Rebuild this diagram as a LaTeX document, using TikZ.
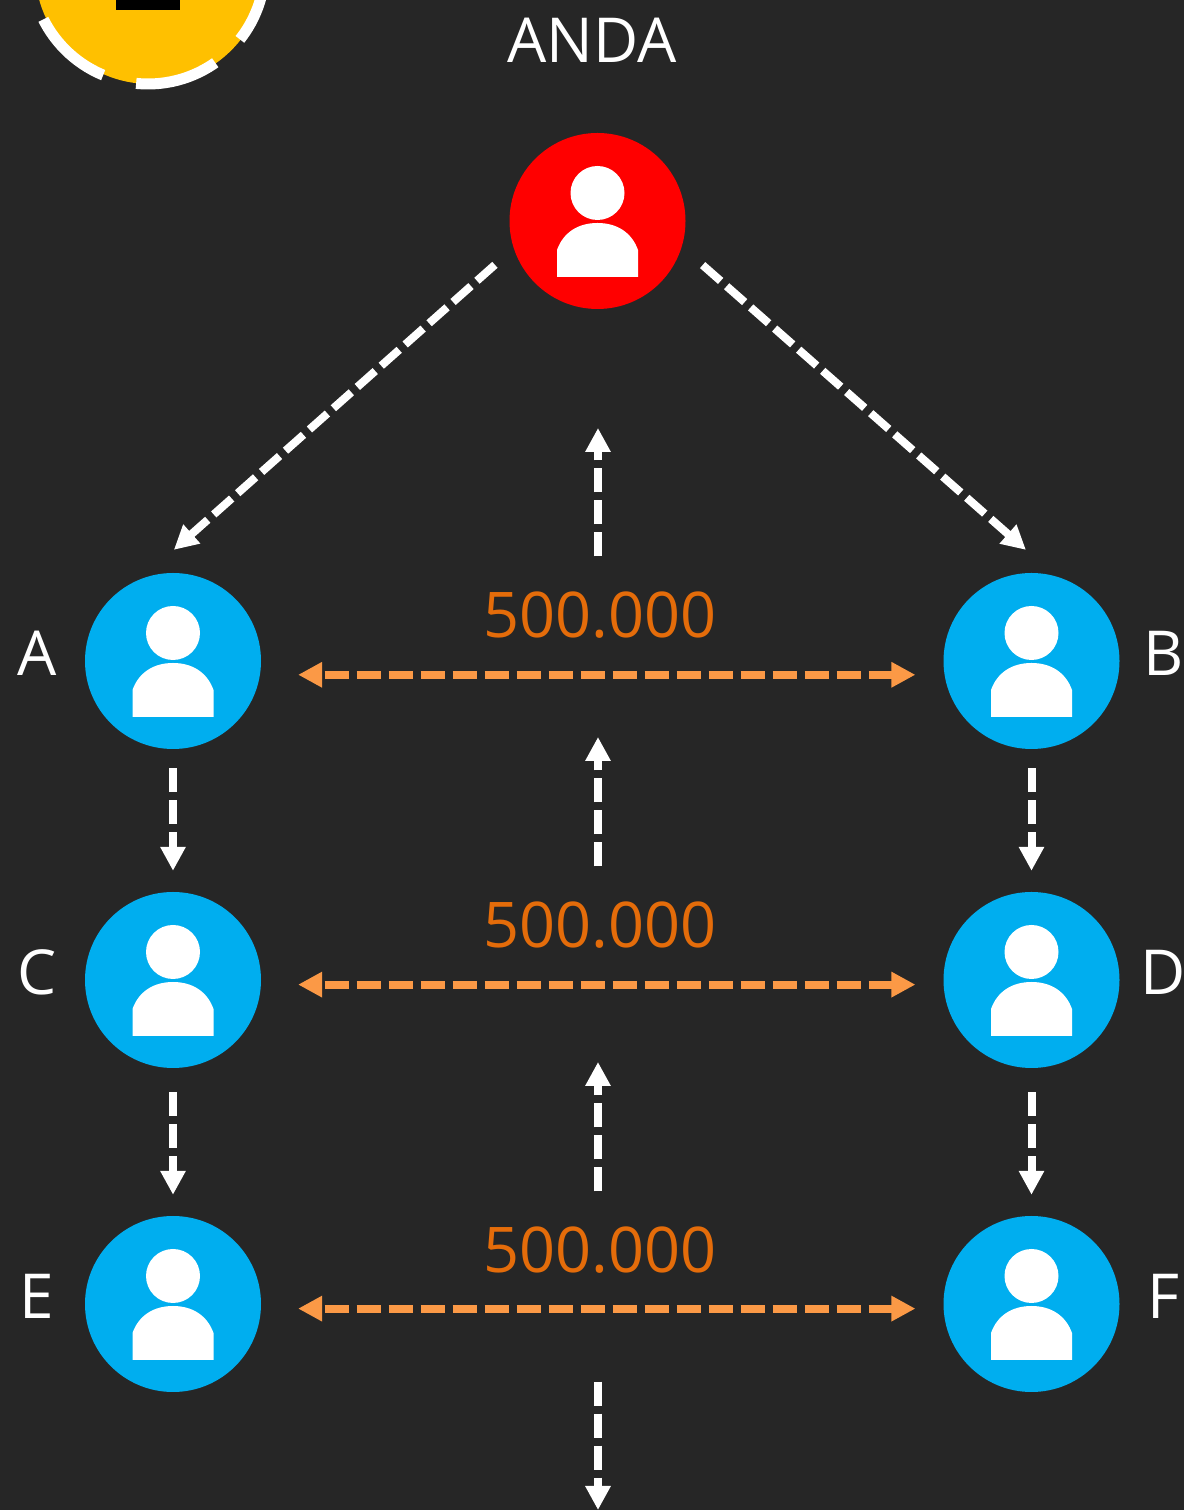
\documentclass[tikz,border=0pt]{standalone}
\usepackage{fontspec}
\setmainfont{Open Sans}
\usetikzlibrary{arrows.meta}
\definecolor{backdrop}{HTML}{262626}
\definecolor{userblue}{HTML}{00AEEF}
\definecolor{badgeyellow}{HTML}{FFC000}
\definecolor{cashline}{HTML}{FB9946}
\definecolor{cashtext}{HTML}{E46C0A}
\tikzset{
  person/.style={circle,fill=#1,inner sep=0pt,minimum size=176pt,path picture={
    \fill[white] ([yshift=28pt]path picture bounding box.center) circle (27pt);
    \fill[white] ([shift={(-40.5pt,-56pt)}]path picture bounding box.center) -- ++(0pt,27pt)
      .. controls +(6pt,17pt) and +(-20pt,0pt) .. ++(40.5pt,27pt)
      .. controls +(20pt,0pt) and +(-6pt,17pt) .. ++(40.5pt,-27pt) -- ++(0pt,-27pt) -- cycle;
  }},
  tag/.style={text=white,inner sep=0pt,text height=45pt,text depth=0pt,font=\fontsize{62pt}{62pt}\selectfont},
  amount/.style={text=cashtext,inner sep=0pt,text height=45pt,text depth=0pt,font=\fontsize{63pt}{63pt}\selectfont},
  flow/.style={white,line width=8pt,dash pattern=on 24pt off 8pt,-{Triangle[length=24pt,width=24pt]}},
  cash/.style={cashline,line width=8pt,dash pattern=on 24pt off 8pt,dash phase=28pt,{Triangle[length=24pt,width=24pt]}-{Triangle[length=24pt,width=24pt]}},
}
\begin{document}
\begin{tikzpicture}[x=1pt,y=1pt,node distance=324pt]
  \useasboundingbox[fill=backdrop] (0,0) rectangle (1184,1510);

  % badge cut off by the top edge
  \node(badge) at (150,1541) [circle,fill=badgeyellow,inner sep=0pt,minimum size=230pt] {};
  \node(ring) at (148,1543) [circle,draw=white,line width=11pt,inner sep=0pt,minimum size=234pt,dash pattern=on 83.5pt off 34.1pt,dash phase=48.5pt] {};
  \fill[black] (116,1500) rectangle (180,1520);

  \node(you) at (597.5,1289) [person=red] {};
  \node[tag] (youtag) at (592,1470) {ANDA};

  \node(e) at (173,206) [person=userblue] {};
  \node(c) [person=userblue,above of=e] {} edge [flow,shorten <=24pt,shorten >=21pt] (e);
  \node(a) [person=userblue,above of=c,node distance=319pt] {} edge [flow,shorten <=19pt,shorten >=21pt] (c);
  \node(f) [person=userblue,right of=e,node distance=858.5pt] {};
  \node(d) [person=userblue,above of=f] {} edge [flow,shorten <=24pt,shorten >=21pt] (f);
  \node(b) [person=userblue,above of=d,node distance=319pt] {} edge [flow,shorten <=19pt,shorten >=21pt] (d);

  \node[tag] (atag) [left of=a,node distance=136pt,yshift=8pt] {A};
  \node[tag] (btag) [right of=b,node distance=132pt,yshift=8pt] {B};
  \node[tag] (ctag) [left of=c,node distance=136pt,yshift=8pt] {C};
  \node[tag] (dtag) [right of=d,node distance=132pt,yshift=8pt] {D};
  \node[tag] (etag) [left of=e,node distance=136pt,yshift=8pt] {E};
  \node[tag] (ftag) [right of=f,node distance=132pt,yshift=8pt] {F};

  \draw[flow,shorten <=25pt,shorten >=43.4pt] (you.198) -- (a.111);
  \draw[flow,shorten <=27.7pt,shorten >=39.8pt] (you.-17) -- (b.74.3);

  \node[amount] (amounta) at (600,895) {500.000};
  \node[amount] (amountb) at (600,585) {500.000};
  \node[amount] (amountc) at (600,260) {500.000};

  \draw[cash,shorten <=38pt,shorten >=29pt] (a.-9) -- (b.189);
  \draw[cash,shorten <=37pt,shorten >=28pt] (c.-3) -- (d.183);
  \draw[cash,shorten <=37pt,shorten >=28pt] (e.-3) -- (f.183);

  \coordinate(upa) at (598,1082);
  \coordinate(upb) at (598,773);
  \coordinate(upc) at (598,448);
  \coordinate(downc) at (598,0);
  \draw[flow,shorten <=36pt] (amounta.north -| upa) -- (upa);
  \draw[flow,shorten <=36pt] (amountb.north -| upb) -- (upb);
  \draw[flow,shorten <=36pt] (amountc.north -| upc) -- (upc);
  \draw[flow,shorten <=109pt] (amountc.south -| downc) -- (downc);
\end{tikzpicture}
\end{document}
